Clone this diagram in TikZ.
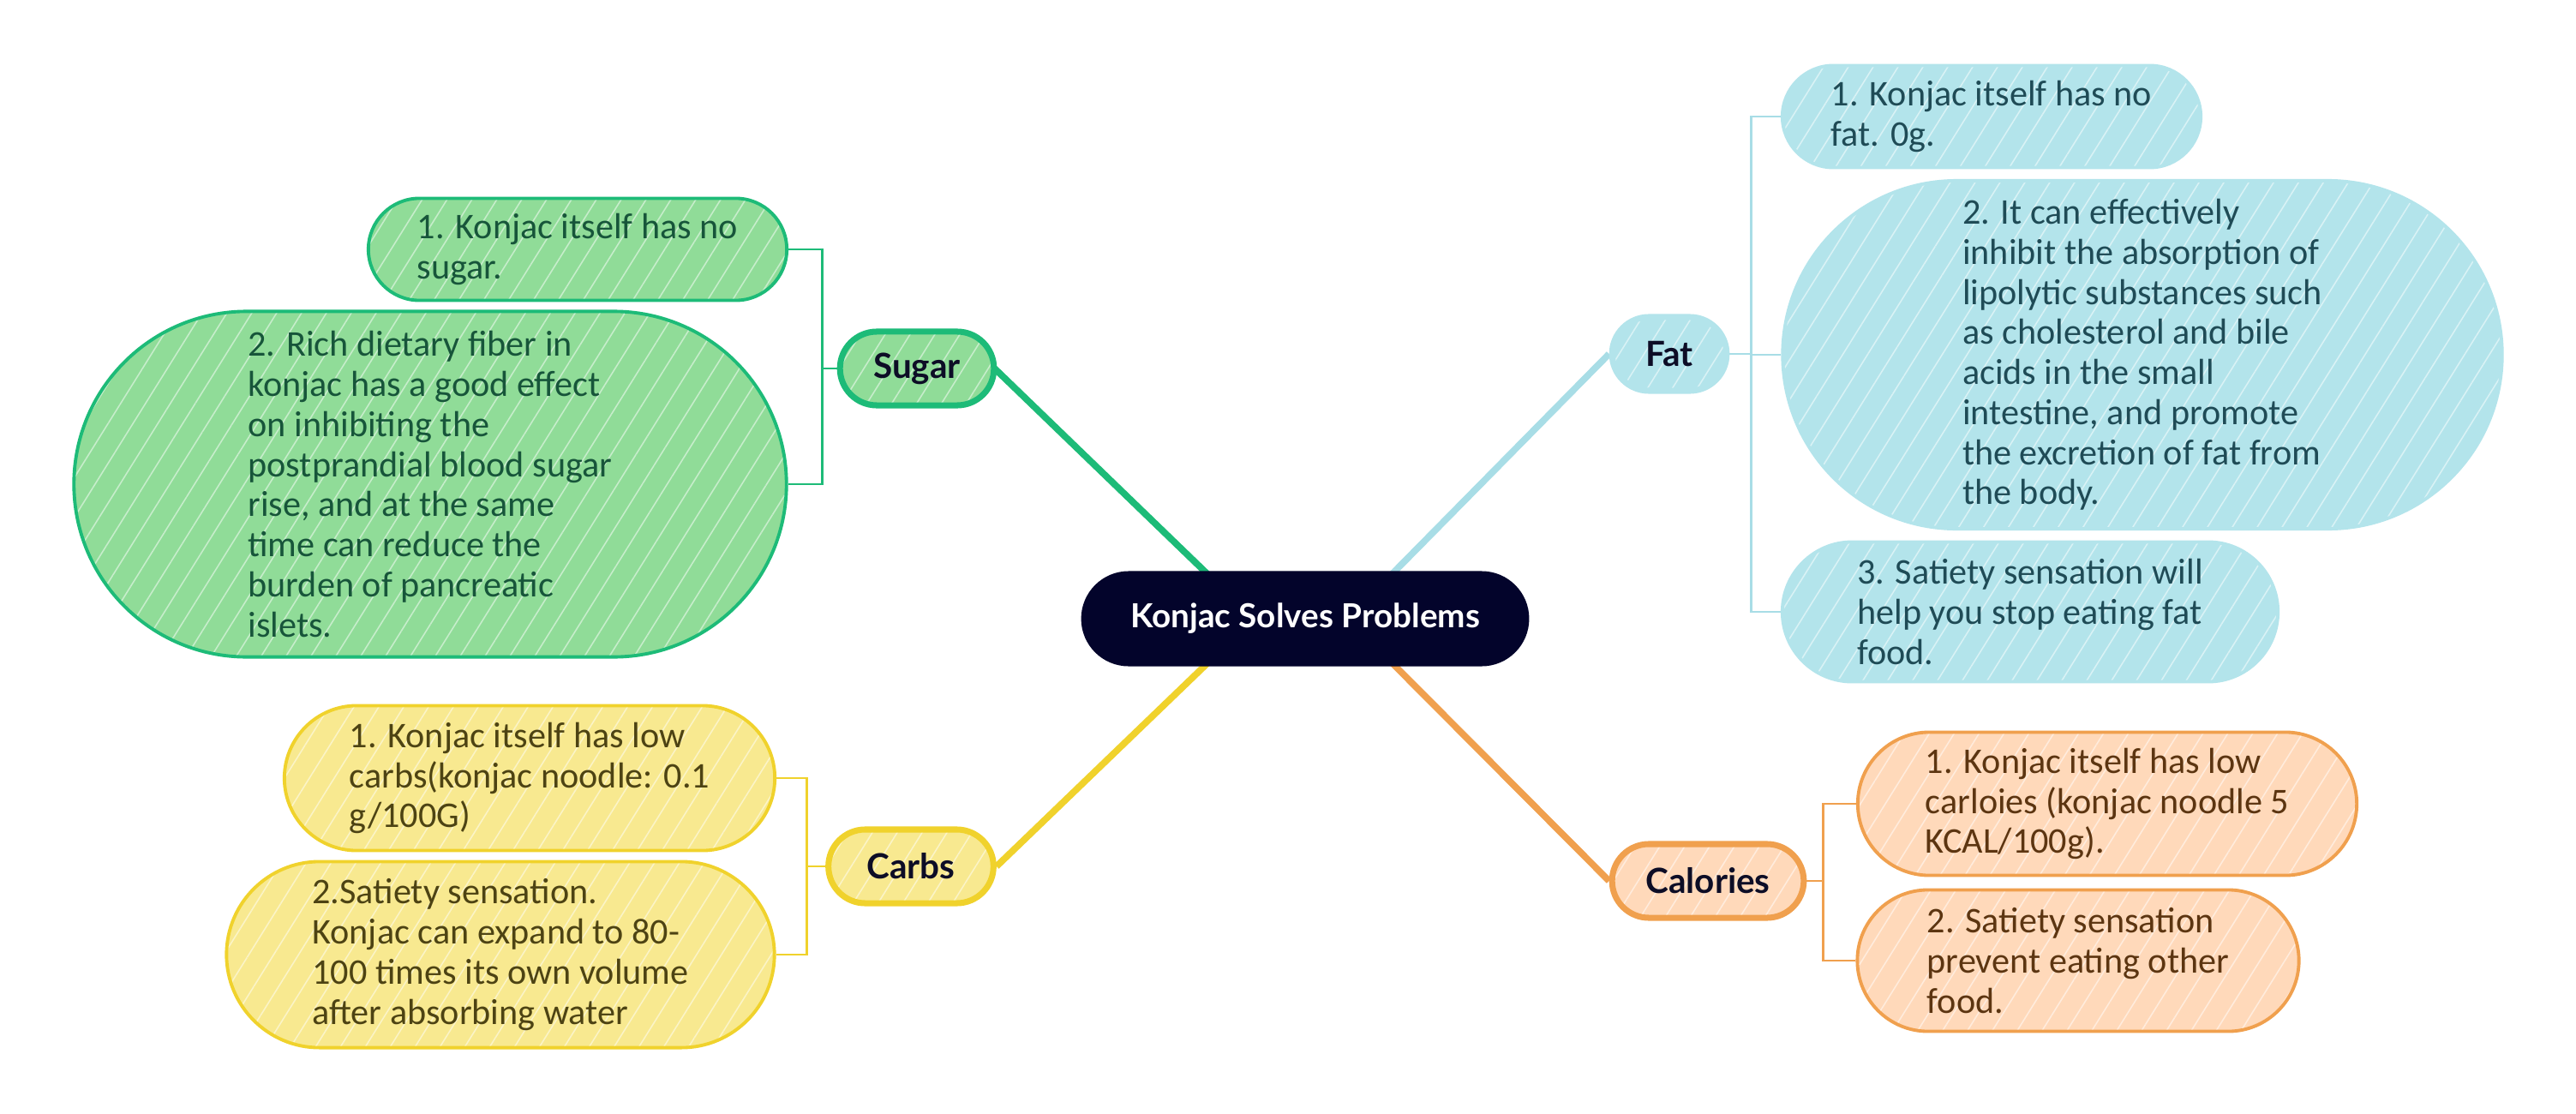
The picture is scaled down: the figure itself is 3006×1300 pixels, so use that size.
\documentclass[tikz,border=0pt]{standalone}
\usepackage{fontspec}
\setmainfont{Carlito}
\newfontfamily\labelfont{Lato}
\usetikzlibrary{positioning,shapes.misc,patterns.meta,backgrounds}

\definecolor{hubnavy}{HTML}{03042B}
\definecolor{labelnavy}{HTML}{0D0D26}
\definecolor{sugarfill}{HTML}{90DC98}
\definecolor{sugarline}{HTML}{1DBB78}
\definecolor{sugartext}{HTML}{17553A}
\definecolor{fatfill}{HTML}{B3E4EB}
\definecolor{fatline}{HTML}{A8DDE6}
\definecolor{fattext}{HTML}{1F4B56}
\definecolor{carbfill}{HTML}{F8E990}
\definecolor{carbline}{HTML}{F0D22C}
\definecolor{carbtext}{HTML}{4D4313}
\definecolor{calfill}{HTML}{FFD9BA}
\definecolor{calline}{HTML}{F0A04E}
\definecolor{caltext}{HTML}{5C3511}

\begin{document}
\begin{tikzpicture}[x=0.01cm, y=-0.01cm,
    sketch/.style={preaction={fill=#1},
                   pattern={Lines[angle=58,distance=7pt,line width=0.45pt]},
                   pattern color=white!50!#1},
    hub/.style={rounded rectangle, fill=hubnavy, text=white,
                font=\labelfont\bfseries\fontsize{11}{13}\selectfont,
                minimum width=5.46cm, minimum height=1.11cm},
    branch/.style={rounded rectangle, line width=2pt, text=labelnavy,
                   font=\labelfont\bfseries\fontsize{11.5}{13}\selectfont,
                   minimum height=0.86cm},
    item/.style={rounded rectangle, line width=1.1pt, align=left,
                 font=\fontsize{12}{13.3}\selectfont, inner xsep=0.1cm},
    link/.style={line width=2.2pt},
    bus/.style={line width=0.8pt}]
  \useasboundingbox (0,0) rectangle (3006,1300);

  \node[hub] (konjac) at (1523,722) {Konjac Solves Problems};

  \node[branch, sketch=sugarfill, draw=sugarline, minimum width=2.03cm] (sugar) at (1070,430) {Sugar};
  \node[branch, sketch=carbfill, draw=carbline, minimum width=2.16cm] (carbs) at (1063,1011) {Carbs};
  \node[branch, sketch=fatfill, draw=fatfill, minimum width=1.57cm] (fat) at (1948,413) {Fat};
  \node[branch, sketch=calfill, draw=calline, minimum width=2.47cm] (calories) at (1993,1028) {Calories};

  \node[item, sketch=sugarfill, draw=sugarline, text=sugartext,
        minimum width=5.08cm, minimum height=1.19cm] (sugar1) at (674,291)
        {1. Konjac itself has no\\sugar.};
  \node[item, sketch=sugarfill, draw=sugarline, text=sugartext,
        minimum width=8.51cm, minimum height=4.03cm] (sugar2) at (502,565)
        {2. Rich dietary fiber in\\konjac has a good effect\\on inhibiting the\\postprandial blood sugar\\rise, and at the same\\time can reduce the\\burden of pancreatic\\islets.};

  \node[item, sketch=carbfill, draw=carbline, text=carbtext,
        minimum width=5.92cm, minimum height=1.69cm] (carbs1) at (618,908)
        {1. Konjac itself has low\\carbs(konjac noodle: 0.1\\g/100G)};
  \node[item, sketch=carbfill, draw=carbline, text=carbtext,
        minimum width=6.59cm, minimum height=2.17cm] (carbs2) at (584,1114)
        {2.Satiety sensation.\\Konjac can expand to 80-\\100 times its own volume\\after absorbing water};

  \node[item, sketch=fatfill, draw=fatfill, text=fattext,
        minimum width=5.08cm, minimum height=1.19cm] (fat1) at (2324,136)
        {1. Konjac itself has no\\fat. 0g.};
  \node[item, sketch=fatfill, draw=fatfill, text=fattext,
        minimum width=8.59cm, minimum height=4.06cm] (fat2) at (2500,414)
        {2. It can effectively\\inhibit the absorption of\\lipolytic substances such\\as cholesterol and bile\\acids in the small\\intestine, and promote\\the excretion of fat from\\the body.};
  \node[item, sketch=fatfill, draw=fatfill, text=fattext,
        minimum width=5.98cm, minimum height=1.63cm] (fat3) at (2369,714)
        {3. Satiety sensation will\\help you stop eating fat\\food.};

  \node[item, sketch=calfill, draw=calline, text=caltext,
        minimum width=6.02cm, minimum height=1.67cm] (calories1) at (2459,938)
        {1. Konjac itself has low\\carloies (konjac noodle 5\\KCAL/100g).};
  \node[item, sketch=calfill, draw=calline, text=caltext,
        minimum width=5.35cm, minimum height=1.65cm] (calories2) at (2425,1121)
        {2. Satiety sensation\\prevent eating other\\food.};

  \begin{scope}[on background layer]
    \fill[white] (0,0) rectangle (3006,1300);
    \draw[link, sugarline] (sugar.east) -- ([xshift=-0.6cm]konjac.center);
    \draw[link, carbline] (carbs.east) -- ([xshift=-0.6cm]konjac.center);
    \draw[link, fatline] (fat.west) -- ([xshift=0.5cm]konjac.center);
    \draw[link, calline] (calories.west) -- ([xshift=0.5cm]konjac.center);

    \draw[bus, sugarline] (sugar.west) -- ++(-20,0) |- (sugar1.east);
    \draw[bus, sugarline] (sugar.west) -- ++(-20,0) |- (sugar2.east);
    \draw[bus, carbline] (carbs.west) -- ++(-22,0) |- (carbs1.east);
    \draw[bus, carbline] (carbs.west) -- ++(-22,0) |- (carbs2.east);
    \draw[bus, fatline] (fat.east) -- ++(25,0) |- (fat1.west);
    \draw[bus, fatline] (fat.east) -- ++(25,0) |- (fat2.west);
    \draw[bus, fatline] (fat.east) -- ++(25,0) |- (fat3.west);
    \draw[bus, calline] (calories.east) -- ++(19,0) |- (calories1.west);
    \draw[bus, calline] (calories.east) -- ++(19,0) |- (calories2.west);
  \end{scope}
\end{tikzpicture}
\end{document}
